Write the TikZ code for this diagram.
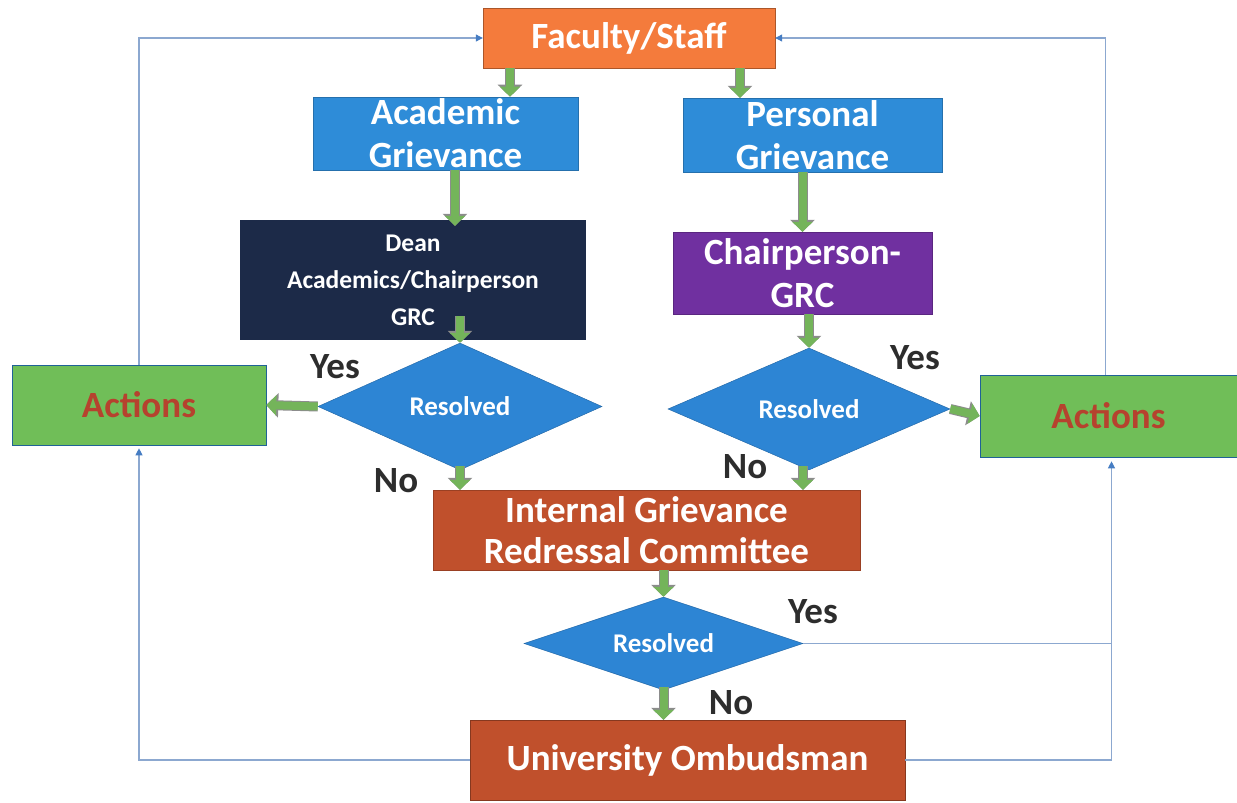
\documentclass[tikz,border=0pt]{standalone}
\usepackage{fontspec}
\setmainfont{Carlito}
\usetikzlibrary{shapes.geometric,arrows.meta,calc}
\definecolor{facorange}{RGB}{244,123,60}
\definecolor{boxblue}{RGB}{46,140,216}
\definecolor{dmblue}{RGB}{45,133,212}
\definecolor{navy}{RGB}{28,42,72}
\definecolor{purp}{RGB}{112,48,160}
\definecolor{actgreen}{RGB}{112,190,88}
\definecolor{rust}{RGB}{192,80,44}
\definecolor{acttext}{RGB}{182,66,46}
\definecolor{fatgreen}{RGB}{116,180,90}
\definecolor{loopline}{RGB}{140,168,208}
\definecolor{looptip}{RGB}{70,125,195}
\definecolor{labgray}{RGB}{45,45,45}
\tikzset{
  box/.style={rectangle, inner sep=2pt, align=center, text=white, font=\bfseries},
  big/.style={font=\bfseries\fontsize{37}{43}\selectfont},
  dm/.style={diamond, fill=dmblue, draw=dmblue!80!black, line width=0.5pt, inner sep=0pt,
     label={[text=white, font=\bfseries\fontsize{27}{30}\selectfont]center:Resolved}},
  fat/.style={draw=fatgreen, line width=8pt, -{Triangle[width=20pt,length=10pt]},
     preaction={draw=black!45, line width=10pt, -{Triangle[width=24pt,length=12pt]}}},
  loop/.style={draw=loopline, line width=1.1pt, -{Triangle[width=7pt,length=7pt,color=looptip]}},
  loopn/.style={draw=loopline, line width=1.1pt},
  lab/.style={text=labgray, font=\bfseries\fontsize{37}{40}\selectfont}
}
\begin{document}
\begin{tikzpicture}[x=1pt,y=-1pt]
\useasboundingbox (0,0) rectangle (1237,803);
% nodes
\node[box, big, fill=facorange, draw=facorange!70!black, minimum width=292pt, minimum height=60pt] (fac) at (629,38) {Faculty/Staff};
\node[box, big, fill=boxblue, draw=boxblue!80!black, minimum width=265pt, minimum height=73pt] (acad) at (445.5,133.5) {Academic\\Grievance};
\node[box, big, fill=boxblue, draw=boxblue!80!black, minimum width=259pt, minimum height=74pt] (pers) at (812.5,135) {Personal\\Grievance};
\node[box, fill=navy, minimum width=346pt, minimum height=120pt, font=\bfseries\fontsize{25.5}{37}\selectfont] (dean) at (413,280) {Dean\\Academics/Chairperson\\GRC};
\node[box, big, fill=purp, draw=purp!80!black, minimum width=259pt, minimum height=82pt] (chair) at (802.5,273) {Chairperson-\\GRC};
\node[dm, minimum width=284pt, minimum height=127pt] (d1) at (460,406.5) {};
\node[dm, minimum width=282pt, minimum height=122pt] (d2) at (809,409) {};
\node[dm, minimum width=279pt, minimum height=93pt] (d3) at (663.5,643.5) {};
\node[box, big, fill=actgreen, draw=boxblue!70!black, line width=0.6pt, text=acttext, minimum width=254pt, minimum height=80pt] (actL) at (139,405) {Actions};
\node[box, big, fill=actgreen, draw=boxblue!70!black, line width=0.6pt, text=acttext, minimum width=257pt, minimum height=82pt] (actR) at (1108.5,416) {Actions};
\node[box, fill=rust, draw=rust!80!black, minimum width=427pt, minimum height=80pt, font=\bfseries\fontsize{37}{41}\selectfont] (igrc) at (646.5,530) {Internal Grievance\\Redressal Committee};
\node[box, big, fill=rust, draw=rust!70!black, minimum width=435pt, minimum height=80pt] (omb) at (687.5,760) {University Ombudsman};
% labels
\node[lab] (y1) at (335,367) {Yes};
\node[lab] (n1) at (396,481) {No};
\node[lab] (y2) at (915,358) {Yes};
\node[lab] (n2) at (745,467) {No};
\node[lab] (y3) at (813,612) {Yes};
\node[lab] (n3) at (731,703) {No};
% thin loop connectors
\draw[loop] (actL.north) -- (actL.north |- fac.west) -- (fac.west);
\draw[loop] (omb.west) -- (actL.south |- omb.west) -- ([yshift=-3pt]actL.south);
\draw[loop] ([xshift=-3pt]actR.north) -- ([xshift=-3pt]actR.north |- fac.east) -- (fac.east);
\draw[loop] (omb.east) -- ([xshift=3pt]actR.south |- omb.east) -- ([xshift=3pt,yshift=-4pt]actR.south);
\draw[loopn] (d3.east) -- ([xshift=3pt]actR.south |- d3.east);
% fat green arrows
\draw[fat] ([xshift=-119pt]fac.south) coordinate (a1) -- (a1 |- acad.north);
\draw[fat] ([xshift=111pt]fac.south) coordinate (a2) -- (a2 |- pers.north);
\draw[fat] ([xshift=9.5pt]acad.south) coordinate (a3) -- ([yshift=-6pt]a3 |- dean.north);
\draw[fat] ([xshift=-10pt]pers.south) coordinate (a4) -- (a4 |- chair.north);
\draw[fat] (d1.north |- dean.south) ++(0,-24) coordinate (a5) -- (d1.north);
\draw[fat] (d2.north |- chair.south) -- (d2.north);
\draw[fat] (d1.west) -- (actL.east);
\draw[fat] (d2.east) -- (actR.west);
\draw[fat] ([yshift=4pt]d1.south) coordinate (a6) -- (a6 |- igrc.north);
\draw[fat] ([xshift=-6pt,yshift=4pt]d2.south) coordinate (a7) -- (a7 |- igrc.north);
\draw[fat] ([xshift=17pt]igrc.south) coordinate (a8) -- (a8 |- d3.north);
\draw[fat] ([yshift=3pt]d3.south) coordinate (a9) -- (a9 |- omb.north);
\end{tikzpicture}
\end{document}
